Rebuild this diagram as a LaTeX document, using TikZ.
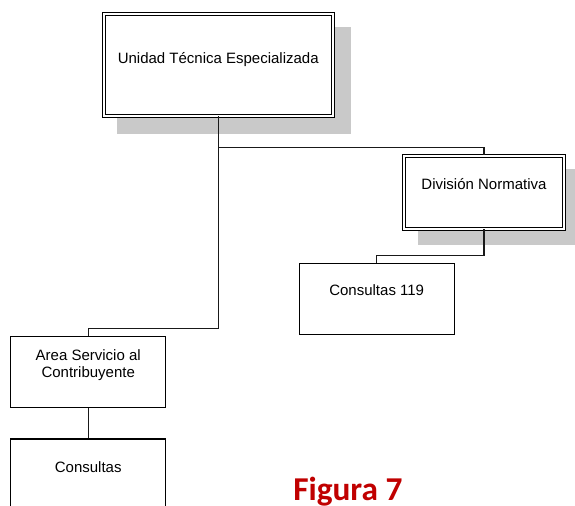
\documentclass[tikz,border=0pt]{standalone}
\usepackage{fontspec}
\setmainfont{Liberation Sans}
\newfontfamily\figfont{Carlito}
\usetikzlibrary{calc,backgrounds}
\definecolor{figred}{RGB}{192,0,0}
\begin{document}
\begin{tikzpicture}[x=.75pt,y=-.75pt,
  unit/.style={draw,fill=white,line width=.8pt,inner sep=0pt,align=center,
    font=\fontsize{11.25}{12.5}\selectfont,text height=8pt},
  dblunit/.style={unit,double,double distance=1.5pt,line width=.75pt},
  shade/.style={fill=black!21},
  conn/.style={line width=.8pt,black!90}]
  \useasboundingbox (0,0) rectangle (575,506);
  \node[dblunit,minimum width=171.4pt,minimum height=76.5pt,text depth=9.5pt] (ute) at (218.25,65) {Unidad Técnica Especializada};
  \node[dblunit,minimum width=120pt,minimum height=54.75pt,text depth=12.8pt] (div) at (484,192.5) {División Normativa};
  \node[unit,minimum width=116.5pt,minimum height=53.25pt,text depth=13.7pt] (c119) at (376.7,298.8) {Consultas 119};
  \node[unit,minimum width=116.25pt,minimum height=53.25pt,text depth=0pt] (area) at (88.2,372) {Area Servicio al\\Contribuyente};
  \node[unit,minimum width=116.25pt,minimum height=53.25pt,text depth=11.75pt] (cons) at (88.2,474.5) {Consultas};
  \begin{scope}[on background layer]
    \fill[shade] ([shift={(14,14)}]ute.north west) rectangle ([shift={(18,18)}]ute.south east);
    \fill[shade] ([shift={(14,14)}]div.north west) rectangle ([shift={(18,16)}]div.south east);
  \end{scope}
  \draw[conn] (ute.south) |- ($(div.north)+(0,-8)$) -- (div.north);
  \draw[conn] (ute.south) |- ($(area.north)+(0,-7.3)$) -- (area.north);
  \draw[conn] (div.south) |- ($(c119.north)+(0,-7.3)$) -- (c119.north);
  \draw[conn] (area) -- (cons);
  \node[anchor=base west,inner sep=0pt,font=\figfont\bfseries\fontsize{25}{29}\selectfont,text=figred] (fig) at (293,500.7) {Figura 7};
\end{tikzpicture}
\end{document}
